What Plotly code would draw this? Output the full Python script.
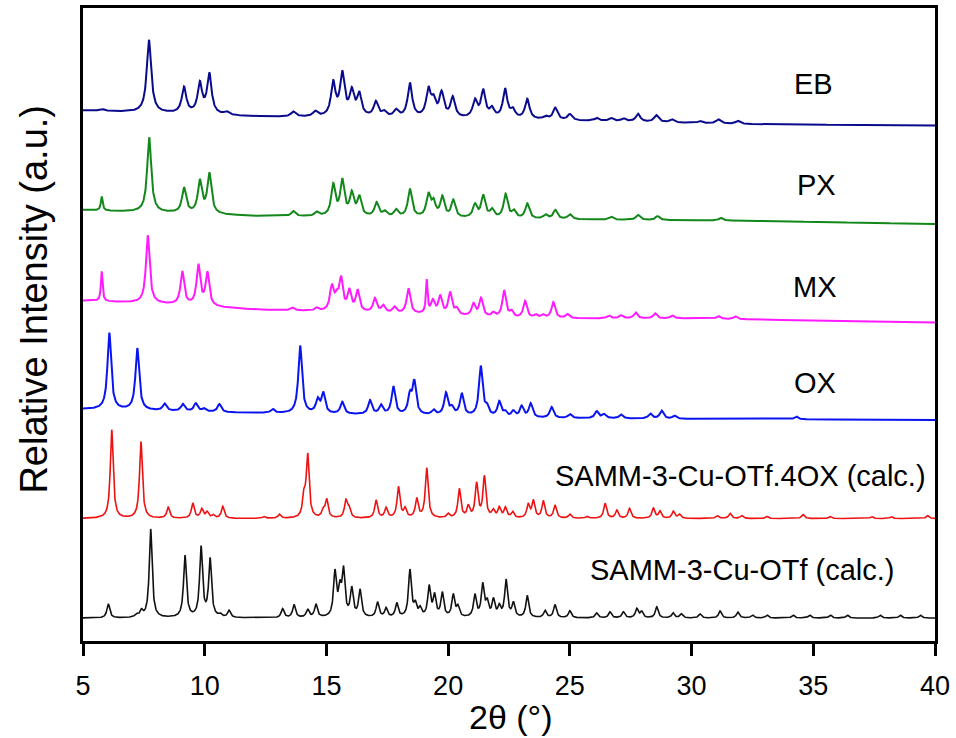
import numpy as np
import plotly.graph_objects as go

# ---- axis ----
x_min, x_max = 5, 40
x_tick_vals = [5, 10, 15, 20, 25, 30, 35, 40]

# ---- peak lists: position (deg 2theta) and intensity (a.u.) ----
# EB
eb_pos = [5.77, 7.71, 9.15, 9.8, 10.19, 10.9, 13.64, 14.54, 15.28, 15.65, 16.04, 16.35,
          17.03, 17.37, 17.86, 18.43, 19.19, 19.4, 19.73, 20.19, 21.1, 21.44, 21.8, 22.34,
          22.66, 23.25, 24.0, 24.4, 25.0, 26.1, 26.7, 27.2, 27.8, 28.55, 29.2, 30.35, 31.1, 31.9]
eb_int = [2, 73, 26, 30, 40, 3, 5, 5, 33, 42, 24, 22,
          15, 5, 7, 34, 27, 15, 24, 20, 17, 27, 9, 29,
          8, 20, 3, 12, 6, 3, 3, 3, 8, 7, 3, 2, 4, 3]
eb_bg_pos = [5, 12, 22.5, 33, 40]
eb_bg = [15, 9, 6, 1, 0]

# PX
px_pos = [5.77, 7.72, 9.15, 9.8, 10.19, 13.64, 14.6, 15.28, 15.65, 16.04, 16.35, 17.06,
          17.4, 17.86, 18.43, 19.19, 19.4, 19.76, 20.21, 21.1, 21.44, 21.8, 22.36, 22.7,
          23.25, 24.0, 24.4, 25.0, 26.7, 27.8, 28.6, 31.2]
px_int = [14, 75, 25, 32, 40, 5, 4, 31, 35, 22, 19, 14,
          5, 7, 28, 22, 14, 20, 17, 13, 22, 8, 24, 7,
          15, 4, 9, 5, 3, 5, 4, 3]
px_bg_pos = [5, 12, 22.5, 33, 40]
px_bg = [14, 8, 5, 3, 0]

# MX
mx_pos = [5.77, 7.66, 9.08, 9.74, 10.11, 13.6, 14.6, 15.22, 15.42, 15.6, 15.94, 16.28,
          16.99, 17.33, 17.79, 18.37, 19.12, 19.37, 19.67, 20.08, 20.35, 21.04, 21.35, 21.86,
          22.3, 22.6, 23.16, 23.6, 23.9, 24.32, 24.9, 26.6, 27.1, 27.7, 28.5, 29.2, 31.1, 31.8]
mx_int = [30, 68, 33, 40, 33, 3, 3, 24, 12, 31, 20, 21,
          14, 7, 6, 25, 33, 13, 18, 22, 6, 12, 18, 4,
          27, 6, 17, 3, 3, 16, 4, 3, 3, 6, 5, 3, 3, 3]
mx_bg_pos = [5, 8, 12, 19, 22.5, 30, 40]
mx_bg = [22, 19, 13, 8, 4, 4, 0]

# OX
ox_pos = [6.08, 7.23, 8.35, 9.1, 9.63, 9.97, 10.6, 12.79, 13.92, 14.64, 14.87, 15.65,
          16.79, 17.24, 17.75, 18.43, 18.61, 19.4, 19.91, 20.15, 20.56, 21.34, 21.6, 22.1,
          22.34, 22.68, 23.02, 23.39, 24.25, 25.0, 26.1, 26.4, 27.1, 28.3, 28.77, 29.3, 34.3]
ox_int = [77, 62, 7, 7, 8, 3, 8, 4, 68, 13, 20, 12,
          14, 9, 28, 18, 32, 5, 22, 7, 22, 50, 8, 15,
          5, 6, 11, 14, 11, 4, 7, 4, 4, 5, 8, 3, 3]
ox_bg_pos = [5, 12, 20, 22.5, 40]
ox_bg = [11, 7, 4, 2, 0]

# SAMM-3-Cu-OTf.4OX (calc.)
c4ox_pos = [6.18, 7.38, 8.5, 9.51, 9.88, 10.1, 10.35, 10.74, 12.43, 13.07, 14.08, 14.23,
            14.87, 15.01, 15.8, 15.93, 17.04, 17.45, 17.96, 18.23, 18.71, 19.12, 20.0, 20.46,
            20.83, 21.17, 21.49, 21.85, 22.1, 22.35, 22.65, 23.29, 23.5, 23.91, 24.39, 25.0,
            25.7, 26.45, 26.93, 27.45, 28.43, 28.7, 29.25, 29.5, 31.05, 31.58, 32.06, 33.1,
            34.58, 35.7, 37.4, 38.2, 39.7]
c4ox_int = [89, 77, 11, 15, 9, 6, 3, 12, 2, 4, 20, 62,
            7, 18, 17, 9, 18, 10, 31, 9, 19, 50, 4, 29,
            11, 34, 41, 7, 10, 10, 6, 13, 17, 17, 13, 4,
            2, 15, 8, 10, 10, 7, 7, 4, 3, 5, 3, 2,
            4, 2, 2, 2, 3]

# SAMM-3-Cu-OTf (calc.)
cotf_pos = [6.04, 7.2, 7.4, 7.78, 9.19, 9.85, 10.22, 10.63, 11.0, 13.2, 13.67, 14.23,
            14.57, 15.35, 15.55, 15.7, 16.04, 16.38, 17.1, 17.45, 17.89, 18.43, 18.65, 18.85,
            19.22, 19.44, 19.76, 20.21, 20.4, 21.1, 21.42, 21.6, 21.86, 22.1, 22.38, 22.68,
            23.25, 23.98, 24.39, 25.0, 26.1, 26.65, 27.2, 27.75, 27.95, 28.57, 29.24, 29.58,
            30.35, 31.17, 31.9, 32.5, 33.1, 34.17, 34.85, 35.7, 36.4, 37.75, 38.57, 39.4]
cotf_int = [14, 3, 6, 89, 62, 70, 58, 3, 7, 9, 13, 8,
            13, 44, 25, 45, 28, 27, 15, 9, 14, 47, 12, 8,
            30, 21, 24, 22, 10, 22, 32, 14, 17, 10, 37, 14,
            22, 7, 13, 7, 5, 6, 6, 9, 6, 11, 5, 4,
            4, 7, 6, 3, 3, 3, 3, 3, 3, 3, 3, 3]

# reflections that are visibly sharper than the rest of their pattern
eb_sharp = []
px_sharp = [5.77]
mx_sharp = [5.77, 19.12]
ox_sharp = []

# ---- drawing ----
tt = np.linspace(x_min, x_max, 3501)


def pattern(pos, inten, fwhm, bg_pos=None, bg=None, sharp=()):
    """Sum of Lorentzian peaks on top of a background."""
    y = np.zeros_like(tt)
    for p, h in zip(pos, inten):
        hw = (fwhm * 0.45 if p in sharp else fwhm) / 2.0
        y += h / (1.0 + ((tt - p) / hw) ** 2)
    if bg_pos is not None:
        y += np.interp(tt, bg_pos, bg)
    return y


series = [
    # name, peaks, fwhm, background, sharp peaks, colour, line width, vertical offset
    ("EB", eb_pos, eb_int, 0.22, eb_bg_pos, eb_bg, eb_sharp, "#0a0a8c", 2.0, 518),
    ("PX", px_pos, px_int, 0.20, px_bg_pos, px_bg, px_sharp, "#12871a", 2.0, 419),
    ("MX", mx_pos, mx_int, 0.18, mx_bg_pos, mx_bg, mx_sharp, "#ff1aff", 2.0, 320),
    ("OX", ox_pos, ox_int, 0.18, ox_bg_pos, ox_bg, ox_sharp, "#0a14f0", 2.0, 222),
    ("SAMM-3-Cu-OTf.4OX (calc.)", c4ox_pos, c4ox_int, 0.14, None, None, (), "#ee1111", 1.6, 123),
    ("SAMM-3-Cu-OTf (calc.)", cotf_pos, cotf_int, 0.14, None, None, (), "#111111", 1.6, 23),
]

label_xy = {
    "EB": (35.0, 560),
    "PX": (35.15, 458),
    "MX": (35.05, 356),
    "OX": (35.05, 259),
    "SAMM-3-Cu-OTf.4OX (calc.)": (32.0, 166),
    "SAMM-3-Cu-OTf (calc.)": (32.1, 71),
}

FONT = "Arial, Liberation Sans, Helvetica, sans-serif"

fig = go.Figure()
annotations = []
for name, pos, inten, fwhm, bgp, bg, sharp, color, lw, offset in series:
    y = pattern(pos, inten, fwhm, bgp, bg, sharp) + offset
    fig.add_trace(go.Scatter(x=tt, y=y, mode="lines", name=name,
                             line=dict(color=color, width=lw), showlegend=False,
                             hoverinfo="skip"))
    lx, ly = label_xy[name]
    annotations.append(dict(x=lx, y=ly, xref="x", yref="y", text=name, showarrow=False,
                            font=dict(family=FONT, size=29, color="black"),
                            xanchor="center", yanchor="middle"))

# axis titles
annotations.append(dict(x=0.502, y=-0.12, xref="paper", yref="paper", text="2θ (°)",
                        showarrow=False, font=dict(family=FONT, size=34, color="black"),
                        xanchor="center", yanchor="middle"))
annotations.append(dict(x=-0.057, y=0.54, xref="paper", yref="paper",
                        text="Relative Intensity (a.u.)", textangle=-90, showarrow=False,
                        font=dict(family=FONT, size=38, color="black"),
                        xanchor="center", yanchor="middle"))

fig.update_layout(
    width=956, height=738,
    margin=dict(l=83, r=21, t=5, b=97),
    paper_bgcolor="white", plot_bgcolor="white",
    annotations=annotations,
    xaxis=dict(range=[x_min, x_max], tickvals=x_tick_vals, ticks="outside",
               ticklen=12, tickwidth=2.5, tickcolor="black",
               showline=True, linewidth=2.5, linecolor="black", mirror=True,
               showgrid=False, zeroline=False,
               tickfont=dict(family=FONT, size=27, color="black"),
               ticklabelstandoff=7),
    yaxis=dict(range=[0, 636], showticklabels=False, ticks="",
               showline=True, linewidth=2.5, linecolor="black", mirror=True,
               showgrid=False, zeroline=False),
)

fig.write_html("out.html")
